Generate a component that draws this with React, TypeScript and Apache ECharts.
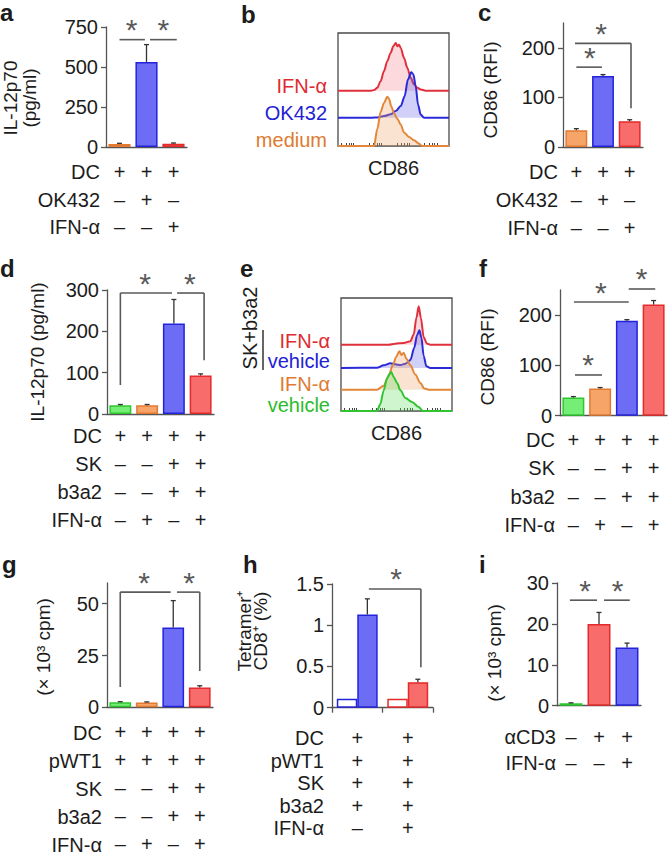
import React, { useEffect, useRef } from 'react';
import * as echarts from 'echarts';

// ---------------- DATA ----------------
// Panel a
const aGroups = ['medium', 'OK432', 'IFN-α'];
const aMean = [18, 532, 20];
const aErrTop = [23, 640, 25];
const aTicks = [0, 250, 500, 750];
const aRows = ['DC', 'OK432', 'IFN-α'];
const aSigns = ['+++', '–+–', '––+'];
// [x1, x2, y, dropLeftTo, dropRightTo, starX]
const aSig = [[0, 0.94, 671, null, null, 0.45], [1.13, 2.12, 671, null, null, 1.62]];

// Panel b (histograms, CD86)
const bRed = [[0,49],[30,49],[32.4,49.5],[35.4,51.5],[38.4,57.4],[41.4,66.2],[44.4,75],[47.4,82.4],[49.8,88.2],[52,91.2],[53.5,88.2],[55,89.7],[56.5,86.8],[59.5,77.9],[62.5,69.1],[65.5,60.3],[68.5,54.4],[71.5,51.5],[74.5,50],[79,49],[100,49]];
const bBlue = [[0,25],[30,25],[35.4,25.3],[41.4,26.5],[47.4,28],[52,30.9],[56.5,35.3],[60,44],[63,58.8],[66,65.3],[67.9,63.5],[70,52.9],[72.1,36.8],[74.5,27.9],[77.5,25],[100,25]];
const bOrange = [[0,0],[32.4,0],[35.4,15],[38.4,30],[41.4,38],[44.4,43.5],[45.9,42],[48,35],[50.5,29],[53.5,24],[56.5,19],[59.5,12],[64,8],[68.5,5],[73,2],[76,0],[100,0]];
const bBase = [49, 25, 0];
const bLabels = ['IFN-α', 'OK432', 'medium'];

// Panel c
const cGroups = ['medium', 'OK432', 'IFN-α'];
const cMean = [34, 143, 52];
const cErrTop = [37, 146, 55];
const cTicks = [0, 100, 200];
const cRows = ['DC', 'OK432', 'IFN-α'];
const cSigns = ['+++', '–+–', '––+'];
const cSig = [[0, 0.96, 161, null, null, 0.51], [-0.05, 2.05, 209, null, 78, 0.93]];

// Panel d
const dGroups = ['vehicle', 'IFN-α', 'SK+b3a2 vehicle', 'SK+b3a2 IFN-α'];
const dMean = [21, 21, 219, 93];
const dErrTop = [23, 23, 277, 97];
const dTicks = [0, 100, 200, 300];
const dRows = ['DC', 'SK', 'b3a2', 'IFN-α'];
const dSigns = ['++++', '––++', '––++', '–+–+'];
const dSig = [[0, 1.93, 292.7, 70, null, 0.92], [2.12, 3.13, 292.7, null, 130, 2.6]];

// Panel e (histograms, CD86)
const eRed = [[0,58.7],[42.9,58.7],[48.9,59.6],[56.5,60.2],[62.5,61.7],[65.5,67.6],[67.9,82.3],[70,92.6],[72,82.3],[74.5,65.2],[77.5,59.6],[80.5,58.7],[100,58.7]];
const eBlue = [[0,38],[32.4,38.3],[38.4,40.4],[44.4,42.2],[48.9,41.3],[53.5,40.7],[58,41.9],[62.5,45.1],[66,56],[68.5,67],[70.6,71.4],[72.4,65],[74.5,48.7],[76.9,39.5],[80.5,38],[100,38]];
const eOrange = [[0,18.9],[32.4,18.9],[38.4,22.4],[42.9,31],[46.8,41],[49.8,48.1],[52.6,52.8],[54.4,49.6],[56.5,51.6],[58.9,46.3],[62.5,40.4],[67,32.2],[71.5,24.8],[75,20],[79,18.9],[100,18.9]];
const eGreen = [[0,0],[32.4,0],[35.4,6],[38.4,18],[41.4,28.6],[43.8,33],[45.3,34.5],[47.4,30.1],[50.5,24.8],[53.5,18.3],[58,11.5],[64,8],[70,3.5],[73.9,0],[100,0]];
const eBase = [58.7, 38, 18.9, 0];
const eLabels = ['IFN-α', 'vehicle', 'IFN-α', 'vehicle'];

// Panel f
const fGroups = ['vehicle', 'IFN-α', 'SK+b3a2 vehicle', 'SK+b3a2 IFN-α'];
const fMean = [36, 54, 189, 221];
const fErrTop = [38, 56, 191, 229];
const fTicks = [0, 100, 200];
const fRows = ['DC', 'SK', 'b3a2', 'IFN-α'];
const fSigns = ['++++', '––++', '––++', '–+–+'];
const fSig = [[0.06, 1.07, 81, null, null, 0.55], [0.02, 2.07, 226, null, null, 1.03], [2.07, 3.06, 252, null, null, 2.55]];

// Panel g
const gGroups = ['vehicle', 'IFN-α', 'SK+b3a2 vehicle', 'SK+b3a2 IFN-α'];
const gMean = [2.4, 2.3, 38.5, 9.6];
const gErrTop = [2.7, 2.6, 51.5, 10.4];
const gTicks = [0, 25, 50];
const gRows = ['DC', 'pWT1', 'SK', 'b3a2', 'IFN-α'];
const gSigns = ['++++', '++++', '––++', '––++', '–+–+'];
const gSig = [[0, 1.9, 55.6, 9.8, null, 0.9], [2.14, 3.0, 55.6, null, 17.5, 2.6]];

// Panel h
const hGroups = ['vehicle', 'IFN-α'];
const hControl = [0.11, 0.11];
const hTetramer = [1.13, 0.31];
const hTetramerErrTop = [1.32, 0.345];
const hTicks = [0, 0.5, 1, 1.5];
const hRows = ['DC', 'pWT1', 'SK', 'b3a2', 'IFN-α'];
const hSigns = ['++', '++', '++', '++', '–+'];
const hSig = [[0.23, 1.26, 1.44, null, 0.49, 0.77]];

// Panel i
const iGroups = ['none', 'αCD3', 'αCD3+IFN-α'];
const iMean = [0.6, 20, 14.2];
const iErrTop = [0.7, 22.8, 15.3];
const iTicks = [0, 10, 20, 30];
const iRows = ['αCD3', 'IFN-α'];
const iSigns = ['–++', '––+'];
const iSig = [[-0.04, 0.93, 25.8, null, null, 0.5], [1.18, 2.1, 25.8, null, null, 1.66]];

// histogram x-axis minor (log) tick marks
const histTicks = [3, 7, 10, 12, 14, 28, 32, 35, 37, 39, 53, 57, 60, 62, 64, 78, 82, 85, 87, 89];

// ---------------- STYLE ----------------
const FONT = '"Liberation Sans", Arial, Helvetica, sans-serif';
const TXT = '#1c1c1c';
const AXC = '#555555';
const SIGC = '#5a5a5a';
const FILL: Record<string, string> = { orange: '#F7A468', blue: '#6C6CF4', red: '#F86C6C', green: '#74EE74', white: '#FFFFFF' };
const EDGE: Record<string, string> = { orange: '#E27A32', blue: '#2323DC', red: '#E42A2A', green: '#2EC82E' };
const HLINE: Record<string, string> = { red: '#E0303C', blue: '#2A2AD8', orange: '#E2873A', green: '#30C430' };
const HFILL: Record<string, string> = { red: 'rgba(240,120,130,0.4)', blue: 'rgba(95,95,232,0.42)', orange: 'rgba(240,165,105,0.45)', green: 'rgba(100,222,100,0.45)' };
const HLAB: Record<string, string> = { red: '#DF2A30', blue: '#2222D4', orange: '#E07A30', green: '#2DBB2D' };

function buildOption() {
  const grids: any[] = [];
  const xAxes: any[] = [];
  const yAxes: any[] = [];
  const series: any[] = [];
  const graphics: any[] = [];

  const txt = (text: string, x: number, y: number, o: any = {}) => {
    graphics.push({
      type: 'text', x, y, rotation: o.rotation || 0, silent: true,
      style: {
        text, fontFamily: FONT, fontSize: o.fontSize || 20, fontWeight: o.fontWeight || 'normal',
        fill: o.fill || TXT, align: o.align || 'center', verticalAlign: o.verticalAlign || 'middle',
        lineHeight: o.lineHeight,
      },
    });
  };

  const errSeries = (gi: number, means: number[], tops: number[], off: number) => ({
    type: 'custom', xAxisIndex: gi, yAxisIndex: gi, z: 4, clip: false,
    data: means.map((m, i) => [i, m, tops[i], off]),
    renderItem: (_p: any, api: any) => {
      const p0 = api.coord([api.value(0), api.value(1)]);
      const p1 = api.coord([api.value(0), api.value(2)]);
      const band = api.size([1, 0])[0];
      const cx = p0[0] + api.value(3) * band;
      const st = { stroke: '#333', lineWidth: 1.3 };
      return {
        type: 'group', children: [
          { type: 'line', shape: { x1: cx, y1: p0[1], x2: cx, y2: p1[1] }, style: st },
          { type: 'line', shape: { x1: cx - 2.5, y1: p1[1], x2: cx + 2.5, y2: p1[1] }, style: st },
        ],
      };
    },
  });

  const sigSeries = (gi: number, sig: any[]) => ({
    type: 'custom', xAxisIndex: gi, yAxisIndex: gi, z: 5, clip: false,
    data: sig.map((s) => [0, s[2], s[0], s[1], s[3] == null ? -1 : s[3], s[4] == null ? -1 : s[4], s[5]]),
    renderItem: (_p: any, api: any) => {
      const base = api.coord([0, api.value(1)]);
      const band = api.size([1, 0])[0];
      const X = (u: number) => base[0] + u * band;
      const yy = base[1];
      const x1 = X(api.value(2));
      const x2 = X(api.value(3));
      const st = { stroke: SIGC, lineWidth: 1.6 };
      const ch: any[] = [{ type: 'line', shape: { x1, y1: yy, x2, y2: yy }, style: st }];
      const dl = api.value(4);
      const dr = api.value(5);
      if (dl >= 0) ch.push({ type: 'line', shape: { x1, y1: yy, x2: x1, y2: api.coord([0, dl])[1] }, style: st });
      if (dr >= 0) ch.push({ type: 'line', shape: { x1: x2, y1: yy, x2: x2, y2: api.coord([0, dr])[1] }, style: st });
      ch.push({
        type: 'text', x: X(api.value(6)), y: yy - 10,
        style: { text: '*', fontFamily: FONT, fontSize: 30, fill: SIGC, align: 'center', verticalAlign: 'middle' },
      });
      return { type: 'group', children: ch };
    },
  });

  const addAxes = (p: any) => {
    const gi = grids.length;
    grids.push({ left: p.left, top: p.top, width: p.width, height: p.height });
    const axisY = p.top + p.height;
    const margin = p.firstRow - axisY - p.rowGap / 2;
    xAxes.push({
      type: 'category', gridIndex: gi, data: p.cats, boundaryGap: true,
      axisLine: { show: true, lineStyle: { color: AXC, width: 1.3 } },
      axisTick: { show: !!p.xTicks, length: 5, lineStyle: { color: AXC, width: 1.3 } },
      axisLabel: {
        interval: 0, margin, lineHeight: p.rowGap, fontSize: 20, color: TXT, fontFamily: FONT,
        formatter: (_v: any, idx: number) => p.signs.map((s: string) => s[idx]).join('\n'),
      },
      splitLine: { show: false },
    });
    yAxes.push({
      type: 'value', gridIndex: gi, min: 0, max: p.max, interval: p.ticks[1],
      axisLine: { show: true, lineStyle: { color: AXC, width: 1.3 } },
      axisTick: { show: true, length: 5, customValues: p.ticks, lineStyle: { color: AXC, width: 1.3 } },
      axisLabel: { customValues: p.ticks, margin: 8, fontSize: 20, color: TXT, fontFamily: FONT },
      splitLine: { show: false },
    });
    txt(p.rows.join('\n'), p.rowRight, axisY + margin, { align: 'right', verticalAlign: 'top', lineHeight: p.rowGap });
    txt(p.title, p.titleX, p.titleY, { rotation: Math.PI / 2, fontSize: 19, lineHeight: p.titleLH || 20 });
    txt(p.letter, p.letterX, p.letterY, { align: 'left', fontSize: 24, fontWeight: 'bold' });
    return gi;
  };

  const addBarPanel = (p: any) => {
    const gi = addAxes(p);
    series.push({
      type: 'bar', xAxisIndex: gi, yAxisIndex: gi, barCategoryGap: '18%', z: 3,
      data: p.vals.map((v: number, i: number) => ({
        value: v,
        itemStyle: { color: FILL[p.colors[i]], borderColor: EDGE[p.colors[i]], borderWidth: 1.5 },
      })),
    });
    series.push(errSeries(gi, p.vals, p.errs, 0));
    series.push(sigSeries(gi, p.sig));
  };

  const addHist = (p: any) => {
    const gi = grids.length;
    grids.push({ left: p.left, top: p.top, width: p.width, height: p.height, show: true, borderColor: '#4a4a4a', borderWidth: 1.3 });
    xAxes.push({
      type: 'value', gridIndex: gi, min: 0, max: 100,
      axisLine: { show: false }, axisLabel: { show: false }, splitLine: { show: false },
      axisTick: { show: true, inside: true, length: 3, customValues: histTicks, lineStyle: { color: '#444' } },
    });
    yAxes.push({ type: 'value', gridIndex: gi, min: 0, max: 100, show: false, splitLine: { show: false } });
    p.curves.forEach((c: any, k: number) => {
      series.push({
        type: 'line', xAxisIndex: gi, yAxisIndex: gi, data: c.pts, showSymbol: false, smooth: 0.3,
        smoothMonotone: 'x', z: 2 + k * 0.1,
        lineStyle: { color: HLINE[c.color], width: 2 },
        areaStyle: { color: HFILL[c.color], origin: c.base },
      });
      txt(c.label, p.labelRight, p.labelY[k], { align: 'right', fill: HLAB[c.color] });
    });
    txt('CD86', p.left + p.width / 2, p.cdY);
    txt(p.letter, p.letterX, p.letterY, { align: 'left', fontSize: 24, fontWeight: 'bold' });
  };

  // a
  addBarPanel({
    left: 106, top: 27, width: 81, height: 120, max: 750, ticks: aTicks, cats: aGroups,
    vals: aMean, errs: aErrTop, colors: ['orange', 'blue', 'red'], sig: aSig,
    rows: aRows, signs: aSigns, rowRight: 100, firstRow: 172, rowGap: 27.5,
    title: 'IL-12p70\n(pg/ml)', titleX: 20, titleY: 98, titleLH: 19, letter: 'a', letterX: 0, letterY: 12,
  });
  // b
  addHist({
    left: 338, top: 33, width: 111, height: 113, letter: 'b', letterX: 241, letterY: 14,
    labelRight: 327, labelY: [86, 113, 140], cdY: 168,
    curves: [
      { pts: bRed, base: bBase[0], color: 'red', label: bLabels[0] },
      { pts: bBlue, base: bBase[1], color: 'blue', label: bLabels[1] },
      { pts: bOrange, base: bBase[2], color: 'orange', label: bLabels[2] },
    ],
  });
  // c
  addBarPanel({
    left: 563, top: 23, width: 80, height: 124, max: 250, ticks: cTicks, cats: cGroups,
    vals: cMean, errs: cErrTop, colors: ['orange', 'blue', 'red'], sig: cSig,
    rows: cRows, signs: cSigns, rowRight: 558, firstRow: 172, rowGap: 28,
    title: 'CD86 (RFI)', titleX: 490, titleY: 90, letter: 'c', letterX: 478, letterY: 12,
  });
  // d
  addBarPanel({
    left: 107, top: 290, width: 107, height: 124, max: 300, ticks: dTicks, cats: dGroups,
    vals: dMean, errs: dErrTop, colors: ['green', 'orange', 'blue', 'red'], sig: dSig,
    rows: dRows, signs: dSigns, rowRight: 102, firstRow: 436, rowGap: 28,
    title: 'IL-12p70 (pg/ml)', titleX: 37, titleY: 352, letter: 'd', letterX: 0, letterY: 268,
  });
  // e
  addHist({
    left: 341, top: 298, width: 111, height: 113, letter: 'e', letterX: 240, letterY: 268,
    labelRight: 330, labelY: [341, 361, 384, 405], cdY: 433,
    curves: [
      { pts: eRed, base: eBase[0], color: 'red', label: eLabels[0] },
      { pts: eBlue, base: eBase[1], color: 'blue', label: eLabels[1] },
      { pts: eOrange, base: eBase[2], color: 'orange', label: eLabels[2] },
      { pts: eGreen, base: eBase[3], color: 'green', label: eLabels[3] },
    ],
  });
  graphics.push({ type: 'line', shape: { x1: 263, y1: 330, x2: 263, y2: 370 }, style: { stroke: '#333', lineWidth: 1.5 } });
  txt('SK+b3a2', 250, 328, { rotation: Math.PI / 2 });
  // f
  addBarPanel({
    left: 560, top: 290, width: 107, height: 125.7, max: 250, ticks: fTicks, cats: fGroups,
    vals: fMean, errs: fErrTop, colors: ['green', 'orange', 'blue', 'red'], sig: fSig,
    rows: fRows, signs: fSigns, rowRight: 555, firstRow: 440, rowGap: 28.3,
    title: 'CD86 (RFI)', titleX: 487, titleY: 357, letter: 'f', letterX: 479, letterY: 268,
  });
  // g
  addBarPanel({
    left: 107, top: 583, width: 106, height: 125.3, max: 60, ticks: gTicks, cats: gGroups,
    vals: gMean, errs: gErrTop, colors: ['green', 'orange', 'blue', 'red'], sig: gSig,
    rows: gRows, signs: gSigns, rowRight: 102, firstRow: 733, rowGap: 28,
    title: '(× 10³ cpm)', titleX: 43, titleY: 647, letter: 'g', letterX: 2, letterY: 564,
  });
  // h
  {
    const gi = addAxes({
      left: 332, top: 584, width: 101, height: 123.7, max: 1.5, ticks: hTicks, cats: hGroups,
      rows: hRows, signs: hSigns, rowRight: 324, firstRow: 738, rowGap: 22.5, xTicks: true,
      title: 'Tetramer⁺\nCD8⁺ (%)', titleX: 252, titleY: 631, titleLH: 16, letter: 'h', letterX: 243, letterY: 564,
    });
    const edges = ['blue', 'red'];
    series.push({
      type: 'bar', xAxisIndex: gi, yAxisIndex: gi, barGap: '0%', barCategoryGap: '19%', z: 3,
      data: hControl.map((v, i) => ({ value: v, itemStyle: { color: '#fff', borderColor: EDGE[edges[i]], borderWidth: 1.5 } })),
    });
    series.push({
      type: 'bar', xAxisIndex: gi, yAxisIndex: gi, barGap: '0%', barCategoryGap: '19%', z: 3,
      data: hTetramer.map((v, i) => ({ value: v, itemStyle: { color: FILL[edges[i]], borderColor: EDGE[edges[i]], borderWidth: 1.5 } })),
    });
    series.push(errSeries(gi, hTetramer, hTetramerErrTop, 0.2));
    series.push(sigSeries(gi, hSig));
  }
  // i
  addBarPanel({
    left: 557, top: 583, width: 84, height: 122.7, max: 30, ticks: iTicks, cats: iGroups,
    vals: iMean, errs: iErrTop, colors: ['green', 'red', 'blue'], sig: iSig,
    rows: iRows, signs: iSigns, rowRight: 556, firstRow: 737, rowGap: 26,
    title: '(× 10³ cpm)', titleX: 494, titleY: 653, letter: 'i', letterX: 479, letterY: 564,
  });

  return {
    animation: false,
    backgroundColor: '#ffffff',
    textStyle: { fontFamily: FONT },
    grid: grids,
    xAxis: xAxes,
    yAxis: yAxes,
    series,
    graphic: graphics,
  };
}

export default function App() {
  const ref = useRef<HTMLDivElement>(null);
  useEffect(() => {
    const chart = echarts.init(ref.current as HTMLDivElement, null, { renderer: 'svg' });
    chart.setOption(buildOption() as any);
    return () => chart.dispose();
  }, []);
  return <div ref={ref} style={{ position: 'absolute', left: 0, top: 0, width: 672, height: 858 }} />;
}
